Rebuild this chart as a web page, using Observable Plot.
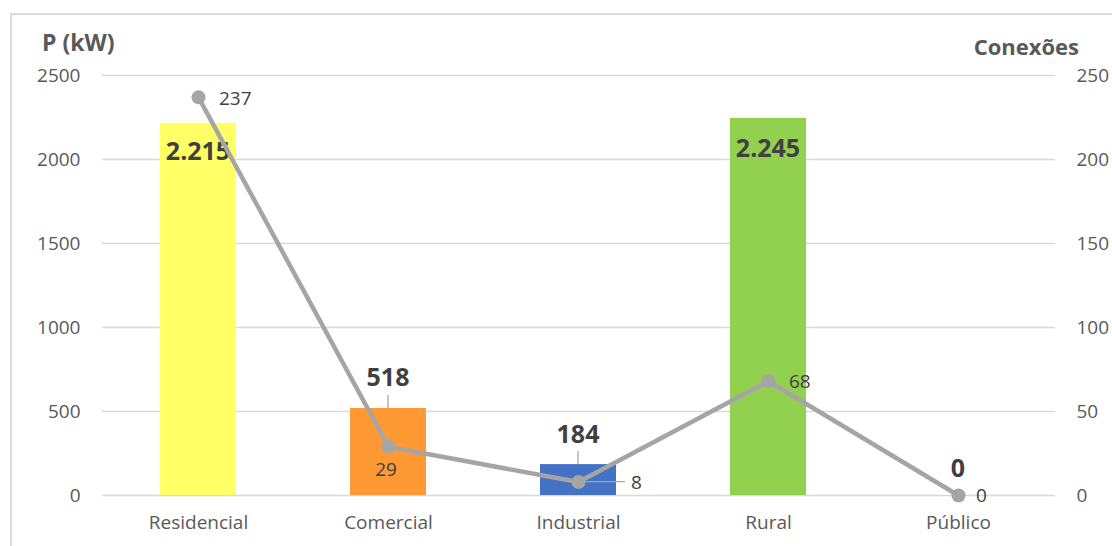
<!DOCTYPE html>
<html>
<head>
<meta charset="utf-8">
<script src="https://cdn.jsdelivr.net/npm/d3@7"></script>
<script src="https://cdn.jsdelivr.net/npm/@observablehq/plot@0.6"></script>
<style>
  html, body { margin: 0; padding: 0; background: #fff; overflow: hidden; }
  #wrap { position: relative; width: 1112px; height: 546px; font-family: "Open Sans", sans-serif; }
  #border { position: absolute; left: 10px; top: 13px; width: 1200px; height: 600px; border: 2px solid #d9d9d9; box-sizing: border-box; }
  #chart { position: absolute; left: 0; top: 0; }
  .ttl { position: absolute; font-weight: bold; color: #595959; white-space: nowrap; }
</style>
</head>
<body>
<div id="wrap">
  <div id="border"></div>
  <div id="chart"></div>
  <div class="ttl" style="left:42px; top:27px; font-size:23px; line-height:30px;">P (kW)</div>
  <div class="ttl" style="right:33px; top:31px; font-size:22px; line-height:30px;">Conexões</div>
</div>
<script>
const categories = ["Residencial", "Comercial", "Industrial", "Rural", "Público"];
const power = [2215, 518, 184, 2245, 0];
const connections = [237, 29, 8, 68, 0];
const barColors = ["#FFFF66", "#FF9933", "#4472C4", "#92D050", "#A5A5A5"];
const leftTicks = [0, 500, 1000, 1500, 2000, 2500];
const rightTicks = [0, 50, 100, 150, 200, 250];

const ratio = 2500 / 250;
const fmt = d3.formatLocale({decimal: ",", thousands: ".", grouping: [3], currency: ["R$", ""]}).format(",d");

const data = categories.map((c, i) => ({cat: c, p: power[i], n: connections[i], color: barColors[i], ny: connections[i] * ratio}));

// label offsets (styling only)
const barLabelDy = [28, -31, -30, 30, -27];
const barLeader = [false, true, true, false, false];
const lineLabel = [
  {dx: 21, dy: 2, anchor: "start"},
  {dx: -2, dy: 23, anchor: "middle"},
  {dx: 53, dy: 1, anchor: "start"},
  {dx: 21, dy: 1, anchor: "start"},
  {dx: 18, dy: 0, anchor: "start"}
];
data.forEach((d, i) => { d.bdy = barLabelDy[i]; d.lead = barLeader[i]; Object.assign(d, {ldx: lineLabel[i].dx, ldy: lineLabel[i].dy, la: lineLabel[i].anchor}); });

const chart = Plot.plot({
  width: 1112,
  height: 546,
  marginLeft: 102,
  marginRight: 57,
  marginTop: 75,
  marginBottom: 51,
  style: {fontFamily: "Open Sans, sans-serif", fontSize: "19px", color: "#595959", background: "transparent"},
  x: {domain: categories, paddingInner: 0.6, paddingOuter: 0.3, label: null},
  y: {domain: [0, 2500], label: null},
  marks: [
    Plot.gridY(leftTicks, {stroke: "#d9d9d9", strokeOpacity: 1, strokeWidth: 1.5}),
    Plot.axisY(leftTicks, {anchor: "left", tickSize: 0, tickPadding: 22, label: null, tickFormat: d => String(d), fill: "#595959", fontSize: 19}),
    Plot.axisY(rightTicks.map(t => t * ratio), {anchor: "right", tickSize: 0, tickPadding: 21, label: null, tickFormat: d => String(d / ratio), fill: "#595959", fontSize: 19, textAnchor: "start"}),
    Plot.axisX({anchor: "bottom", tickSize: 0, tickPadding: 20, label: null, fill: "#595959", fontSize: 19}),
    Plot.barY(data, {x: "cat", y: "p", fill: "color"}),
    // leader lines from bar labels to bars
    Plot.barY(data.filter(d => d.lead), {x: "cat", y: "p", render: (index, scales) => {
      const g = d3.create("svg:g");
      const sel = data.filter(d => d.lead);
      for (const i of index) {
        const d = sel[i];
        const cx = scales.x(d.cat) + scales.x.bandwidth() / 2;
        const yt = scales.y(d.p);
        g.append("line").attr("x1", cx).attr("x2", cx).attr("y1", yt - 13).attr("y2", yt).attr("stroke", "#a6a6a6").attr("stroke-width", 1.3);
      }
      return g.node();
    }}),
    Plot.text(data, {x: "cat", y: "p", text: d => fmt(d.p), render: (index, scales) => {
      const g = d3.create("svg:g").attr("font-family", "Open Sans, sans-serif");
      for (const i of index) {
        const d = data[i];
        const cx = scales.x(d.cat) + scales.x.bandwidth() / 2;
        g.append("text").attr("x", cx).attr("y", scales.y(d.p) + d.bdy).attr("dy", "0.35em").attr("text-anchor", "middle")
          .attr("font-weight", "bold").attr("font-size", 25).attr("fill", "#404040").text(fmt(d.p));
      }
      return g.node();
    }}),
    Plot.line(data, {x: "cat", y: "ny", stroke: "#A5A5A5", strokeWidth: 4.5, curve: "linear"}),
    Plot.dot(data, {x: "cat", y: "ny", r: 7, fill: "#A5A5A5", stroke: "none"}),
    Plot.text(data, {x: "cat", y: "ny", text: d => String(d.n), render: (index, scales) => {
      const g = d3.create("svg:g").attr("font-family", "Open Sans, sans-serif");
      for (const i of index) {
        const d = data[i];
        const cx = scales.x(d.cat) + scales.x.bandwidth() / 2;
        const cy = scales.y(d.ny);
        if (d.cat === "Industrial") {
          g.append("line").attr("x1", cx + 6).attr("x2", cx + 47).attr("y1", cy).attr("y2", cy).attr("stroke", "#a6a6a6").attr("stroke-width", 1.3);
        }
        g.append("text").attr("x", cx + d.ldx).attr("y", cy + d.ldy).attr("dy", "0.35em").attr("text-anchor", d.la)
          .attr("font-size", 19).attr("fill", "#404040").text(String(d.n));
      }
      return g.node();
    }})
  ]
});
document.getElementById("chart").appendChild(chart);
</script>
</body>
</html>
